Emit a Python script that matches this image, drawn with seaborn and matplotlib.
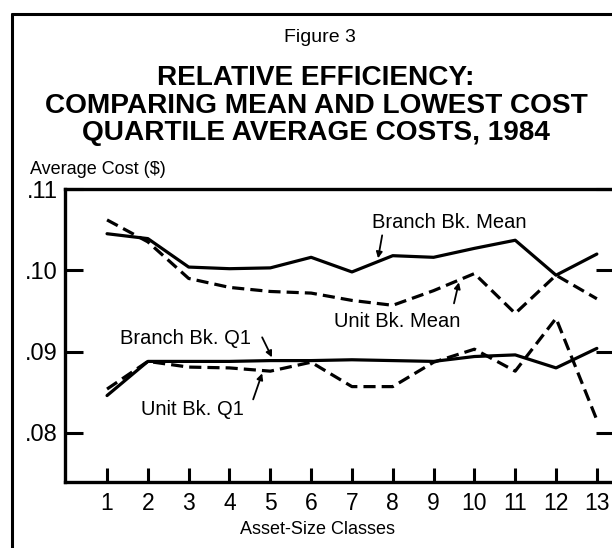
import matplotlib
matplotlib.use("Agg")
import matplotlib.pyplot as plt
from matplotlib.lines import Line2D
import seaborn as sns
import pandas as pd

# ---- data ----
classes = [1, 2, 3, 4, 5, 6, 7, 8, 9, 10, 11, 12, 13]
branch_mean = [.1045, .1039, .1004, .1002, .1003, .1016, .0998, .1018, .1016, .1027, .1037, .0994, .1020]
unit_mean = [.1062, .1035, .0990, .0979, .0974, .0972, .0963, .0957, .0975, .0996, .0947, .0994, .0965]
branch_q1 = [.0846, .0888, .0888, .0888, .0889, .0889, .0890, .0889, .0888, .0894, .0896, .0880, .0904]
unit_q1 = [.0854, .0888, .0881, .0880, .0876, .0887, .0857, .0857, .0887, .0903, .0876, .0941, .0816]
y_ticks = [.08, .09, .10, .11]
y_tick_labels = [".08", ".09", ".10", ".11"]
x_tick_labels = [str(c) for c in classes]

series = {
    "Branch Bk. Mean": branch_mean,
    "Unit Bk. Mean": unit_mean,
    "Branch Bk. Q1": branch_q1,
    "Unit Bk. Q1": unit_q1,
}
df = pd.concat(
    [pd.DataFrame({"cls": classes, "cost": v, "series": k,
                   "bank": "Branch" if k.startswith("Branch") else "Unit"})
     for k, v in series.items()],
    ignore_index=True,
)

sns.set_theme(style="white")
plt.rcParams["font.family"] = ["Liberation Sans", "DejaVu Sans"]
plt.rcParams["text.color"] = "black"
plt.rcParams["xtick.color"] = "black"
plt.rcParams["ytick.color"] = "black"

W, H = 612, 548
fig = plt.figure(figsize=(W / 100, H / 100), dpi=100)
ax = fig.add_axes([65 / W, 1 - 482 / H, (614 - 65) / W, (482 - 189) / H])

for name, grp in df.groupby("series", sort=False):
    dashed = grp["bank"].iloc[0] == "Unit"
    sns.lineplot(data=grp, x="cls", y="cost", ax=ax, color="black",
                 lw=2.3, legend=False,
                 linestyle=(0, (3.8, 1.9)) if dashed else "-")

ax.set_xlim(-0.03, 13.42)
ax.set_ylim(0.07397, 0.11)
ax.set_xticks(classes)
ax.set_xticklabels(x_tick_labels)
ax.set_yticks(y_ticks)
ax.set_yticklabels(y_tick_labels)
ax.set_xlabel("")
ax.set_ylabel("")
for s in ax.spines.values():
    s.set_linewidth(2.4)
    s.set_color("black")
ax.tick_params(axis="y", direction="in", length=13, width=2.2, left=True,
               right=True, labelsize=17, pad=5, colors="black")
ax.tick_params(axis="x", direction="in", length=10, width=2.2, bottom=True,
               labelsize=16.5, pad=7, colors="black")

# annotations
lbl_kw = dict(fontsize=14.5, ha="center", va="center", color="black")
arrow_kw = dict(arrowstyle="-|>", lw=1.3, color="black", mutation_scale=9,
                shrinkA=0, shrinkB=0)
ax.text(9.38, 0.1059, "Branch Bk. Mean", **lbl_kw)
ax.annotate("", xy=(7.64, 0.10148), xytext=(7.74, 0.1043), arrowprops=arrow_kw)
ax.text(8.10, 0.09373, "Unit Bk. Mean", **lbl_kw)
ax.annotate("", xy=(9.62, 0.09852), xytext=(9.50, 0.09594), arrowprops=arrow_kw)
ax.text(2.93, 0.09164, "Branch Bk. Q1", **lbl_kw)
ax.annotate("", xy=(5.04, 0.08930), xytext=(4.80, 0.09176), arrowprops=arrow_kw)
ax.text(3.08, 0.08290, "Unit Bk. Q1", **lbl_kw)
ax.annotate("", xy=(4.80, 0.08733), xytext=(4.58, 0.08413), arrowprops=arrow_kw)

# titles and axis titles
fig.text(320 / W, 1 - 37 / H, "Figure 3", fontsize=14, ha="center", va="center")
title_lines = ["RELATIVE EFFICIENCY:", "COMPARING MEAN AND LOWEST COST",
               "QUARTILE AVERAGE COSTS, 1984"]
for line, yc in zip(title_lines, [78, 106, 133]):
    fig.text(316 / W, 1 - yc / H, line, fontsize=20.2, fontweight="bold",
             ha="center", va="center")
fig.text(30 / W, 1 - 170 / H, "Average Cost ($)", fontsize=13, ha="left", va="center")
fig.text(317 / W, 1 - 530 / H, "Asset-Size Classes", fontsize=13, ha="center", va="center")

# outer frame (top and left edges)
fig.add_artist(Line2D([12 / W, 1.0], [1 - 14 / H, 1 - 14 / H], lw=2.2, color="black"))
fig.add_artist(Line2D([12 / W, 12 / W], [0, 1 - 14 / H], lw=2.2, color="black"))

fig.savefig("out.png", dpi=100)
